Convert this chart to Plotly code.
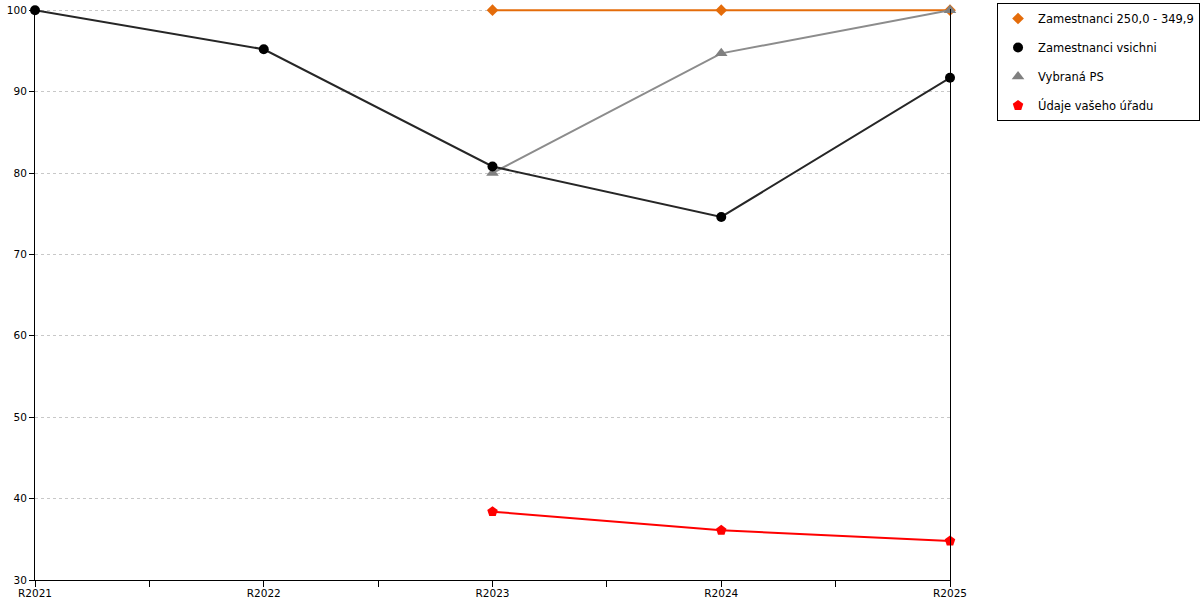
import plotly.graph_objects as go

categories = ["R2021", "R2022", "R2023", "R2024", "R2025"]

zam_250 = [None, None, 100, 100, 100]
zam_vsichni = [100, 95.2, 80.8, 74.6, 91.7]
vybrana_ps = [None, None, 80.0, 94.7, 100]
vas_urad = [None, None, 38.4, 36.1, 34.8]

y_ticks = [30, 40, 50, 60, 70, 80, 90, 100]

xs = list(range(len(categories)))

# (nazev, data, barva cary, barva markeru, symbol, velikost, poradi v legende)
series = [
    ("Zamestnanci 250,0 - 349,9", zam_250, "#E46C0A", "#E46C0A", "diamond", 9, 1),
    ("Vybraná PS", vybrana_ps, "#8C8C8C", "#808080", "triangle-up", 11, 3),
    ("Zamestnanci vsichni", zam_vsichni, "#262626", "#000000", "circle", 10, 2),
    ("Údaje vašeho úřadu", vas_urad, "#FF0000", "#FF0000", "pentagon", 11, 4),
]

fig = go.Figure()

for name, vals, lc, mc, sym, size, rank in series:
    fig.add_trace(go.Scatter(
        x=xs, y=vals, name=name, mode="lines+markers",
        line=dict(color=lc, width=2),
        marker=dict(symbol=sym, size=size, color=mc),
        cliponaxis=False, showlegend=False,
    ))
    # jen znacka do legendy, bez cary
    fig.add_trace(go.Scatter(
        x=[None], y=[None], name=name, mode="markers",
        marker=dict(symbol=sym, size=size, color=mc),
        legendrank=rank, legendgroup=name,
    ))

fig.update_layout(
    width=1200, height=600,
    margin=dict(l=35, r=250, t=9, b=20, autoexpand=False),
    plot_bgcolor="white", paper_bgcolor="white",
    font=dict(family="DejaVu Sans", size=10.5, color="#000000"),
    legend=dict(
        x=1.0514, y=1.0105, xanchor="left", yanchor="top",
        bordercolor="#000000", borderwidth=1,
        font=dict(size=11.5),
        traceorder="grouped", tracegroupgap=10,
        itemwidth=30,
    ),
    xaxis=dict(
        range=[0, len(categories) - 1],
        tickmode="array", tickvals=xs, ticktext=categories,
        showgrid=False, zeroline=False, automargin=False,
        showline=True, linecolor="#000000", linewidth=1,
        ticks="outside", ticklen=6, tickcolor="#000000",
        ticklabelstandoff=-3,
        minor=dict(dtick=0.5, tick0=0, ticks="outside", ticklen=6,
                   tickcolor="#000000", showgrid=False),
    ),
    yaxis=dict(
        # malinko nad 100, aby cara na 100 nebyla oriznuta
        range=[30, 100.15], tickvals=y_ticks,
        showgrid=True, gridcolor="#C8C8C8", griddash="dot", gridwidth=1,
        zeroline=False, automargin=False,
        showline=True, linecolor="#000000", linewidth=1, mirror=True,
        ticks="outside", ticklen=5, tickcolor="#000000",
    ),
)

# stranka ma defaultne okraj 8px, ten zrusime
fig.write_html("out.html", config={"displayModeBar": False},
               post_script="document.body.style.margin='0';")
